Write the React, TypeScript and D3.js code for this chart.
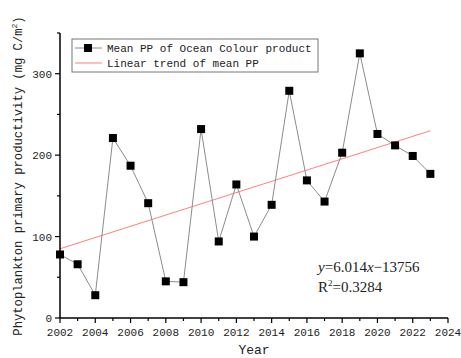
import React from "react";
import * as d3 from "d3";

const years = [2002,2003,2004,2005,2006,2007,2008,2009,2010,2011,2012,2013,2014,2015,2016,2017,2018,2019,2020,2021,2022,2023];
const meanPP = [78,66,28,221,187,141,45,44,232,94,164,100,139,279,169,143,203,325,226,212,199,177];
const trendYears = [2002, 2023];
const trendValues = [85, 230];
const xTicks = [2002,2004,2006,2008,2010,2012,2014,2016,2018,2020,2022,2024];
const yTicks = [0,100,200,300];
const legendLabels = ["Mean PP of Ocean Colour product", "Linear trend of mean PP"];

const W = 461, H = 358;
const mono = "'Liberation Mono', 'DejaVu Sans Mono', monospace";
const serif = "'Liberation Serif', 'Times New Roman', serif";

export default function App() {
  const x = d3.scaleLinear().domain([2002, 2024]).range([60, 448]);
  const y = d3.scaleLinear().domain([0, 350]).range([318, 33]);
  const line = d3.line<number>().x((_, i) => x(years[i])).y((d) => y(d));
  const trend = d3.line<number>().x((_, i) => x(trendYears[i])).y((d) => y(d));
  const minorX = d3.range(2002, 2025, 1);
  const minorY = d3.range(0, 351, 50);
  const ms = 8;
  return (
    <svg width={W} height={H} style={{ position: "absolute", left: 0, top: 0, background: "#fff" }}>
      <rect width={W} height={H} fill="#fff" />
      <path d={trend(trendValues) || ""} fill="none" stroke="#ff8080" strokeWidth={1} />
      <path d={line(meanPP) || ""} fill="none" stroke="#8c8c8c" strokeWidth={1} />
      {meanPP.map((v, i) => (
        <rect key={i} x={x(years[i]) - ms / 2} y={y(v) - ms / 2} width={ms} height={ms} fill="#000" />
      ))}
      {/* axes */}
      <line x1={60} x2={60} y1={33} y2={318} stroke="#000" strokeWidth={1.5} />
      <line x1={60} x2={448} y1={318} y2={318} stroke="#000" strokeWidth={1.5} />
      {minorX.map((t) => (
        <line key={"mx" + t} x1={x(t)} x2={x(t)} y1={318} y2={t % 2 === 0 ? 323 : 321} stroke="#000" strokeWidth={1.2} />
      ))}
      {minorY.map((t) => (
        <line key={"my" + t} x1={t % 100 === 0 ? 55 : 57} x2={60} y1={y(t)} y2={y(t)} stroke="#000" strokeWidth={1.2} />
      ))}
      {xTicks.map((t) => (
        <text key={"xt" + t} x={x(t)} y={336} fontFamily={mono} fontSize={11} textAnchor="middle" fill="#222">{t}</text>
      ))}
      {yTicks.map((t) => (
        <text key={"yt" + t} x={52} y={y(t) + 4} fontFamily={mono} fontSize={11} textAnchor="end" fill="#222">{t}</text>
      ))}
      <text x={254} y={354} fontFamily={mono} fontSize={13} textAnchor="middle" fill="#222">Year</text>
      <text transform={`translate(22,176) rotate(-90)`} fontFamily={mono} fontSize={12.2} textAnchor="middle" fill="#222">
        Phytoplankton primary productivity (mg C/m<tspan dy={-5} fontSize={8}>2</tspan><tspan dy={5}>)</tspan>
      </text>
      {/* legend */}
      <rect x={72} y={39} width={246} height={33} fill="#fff" stroke="#777" strokeWidth={1} />
      <line x1={75} x2={102} y1={48} y2={48} stroke="#8c8c8c" strokeWidth={1} />
      <rect x={88 - 4} y={48 - 4} width={8} height={8} fill="#000" />
      <line x1={75} x2={102} y1={63} y2={63} stroke="#ff8080" strokeWidth={1} />
      <text x={107} y={52} fontFamily={mono} fontSize={11} fill="#222">{legendLabels[0]}</text>
      <text x={107} y={67} fontFamily={mono} fontSize={11} fill="#222">{legendLabels[1]}</text>
      {/* equation */}
      <text x={318} y={272} fontFamily={serif} fontSize={15} fill="#222">
        <tspan fontStyle="italic">y</tspan>=6.014<tspan fontStyle="italic">x</tspan>−13756
      </text>
      <text x={318} y={292} fontFamily={serif} fontSize={15} fill="#222">
        R<tspan dy={-6} fontSize={9}>2</tspan><tspan dy={6}>=0.3284</tspan>
      </text>
    </svg>
  );
}
